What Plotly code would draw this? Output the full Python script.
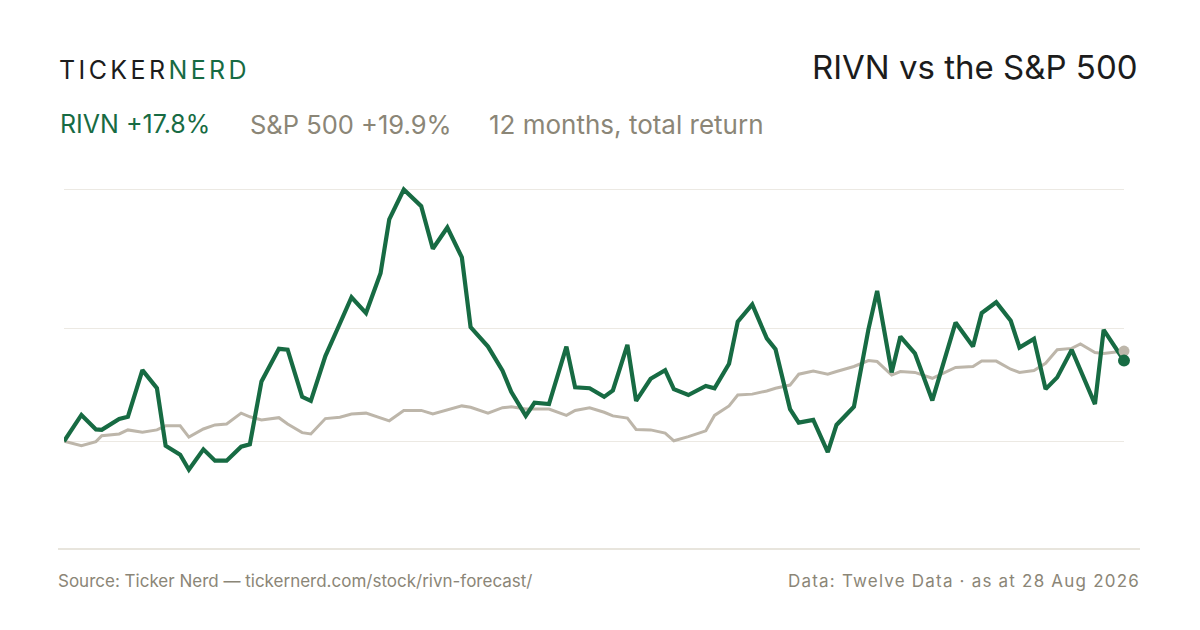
import pandas as pd
import plotly.graph_objects as go

# ---- Data: 12 months total return (%), from 28 Aug 2025 ----
start = pd.Timestamp("2025-08-28")
day_offsets = [
    0, 6, 11, 13, 19, 22, 27, 32, 35, 40, 43, 48, 52, 56, 61, 64, 68, 74, 77, 82,
    85, 90, 95, 99, 104, 109, 112, 117, 123, 127, 132, 137, 140, 146, 151, 154,
    159, 162, 167, 173, 176, 181, 186, 189, 194, 197, 202, 207, 210, 215, 221,
    224, 229, 232, 237, 242, 245, 250, 253, 258, 263, 266, 272, 277, 280, 285,
    288, 293, 299, 307, 313, 316, 321, 326, 329, 334, 338, 342, 347, 350, 355,
    358, 365,
]
rivn_return = [
    0.0, 5.8, 2.6, 2.5, 4.9, 5.4, 15.7, 11.7, -1.0, -3.0, -6.3, -1.8, -4.3, -4.3,
    -1.2, -0.7, 13.2, 20.4, 20.2, 9.8, 8.9, 18.8, 26.0, 31.8, 28.3, 37.1, 49.0,
    55.6, 51.9, 42.5, 47.2, 40.6, 25.2, 20.9, 15.6, 10.9, 5.6, 8.5, 8.2, 20.9,
    11.9, 11.7, 9.8, 11.2, 21.3, 8.9, 13.8, 15.7, 11.5, 10.2, 12.2, 11.7, 17.1,
    26.4, 30.2, 22.7, 20.3, 7.1, 4.1, 4.7, -2.4, 3.6, 7.6, 24.7, 33.2, 15.2,
    23.1, 19.4, 9.0, 26.2, 20.9, 28.3, 30.7, 26.6, 20.7, 22.6, 11.5, 14.1, 20.2,
    15.9, 8.2, 24.6, 17.8,
]
spx_return = [
    0.0, -1.0, -0.1, 1.2, 1.6, 2.5, 2.0, 2.5, 3.4, 3.4, 0.9, 2.7, 3.6, 3.8, 6.2,
    5.4, 4.7, 5.2, 3.8, 1.9, 1.6, 5.0, 5.3, 6.0, 6.2, 5.1, 4.5, 6.8, 6.8, 6.0,
    6.9, 7.8, 7.5, 6.2, 7.4, 7.6, 7.1, 7.1, 7.1, 5.7, 6.8, 7.4, 6.4, 5.6, 5.1,
    2.6, 2.5, 1.8, 0.1, 1.0, 2.3, 5.7, 7.8, 10.2, 10.4, 11.1, 11.7, 12.4, 14.8,
    15.5, 14.8, 15.4, 16.5, 17.8, 17.6, 14.6, 15.4, 15.2, 13.9, 16.3, 16.5, 17.7,
    17.7, 15.9, 15.2, 15.6, 17.2, 20.2, 20.5, 21.5, 19.6, 19.4, 19.9,
]
grid_values = [0, 25, max(rivn_return)]

dates = start + pd.to_timedelta(day_offsets, unit="D")

GREEN = "#176b43"
BEIGE = "#bdb6aa"
GREY_TEXT = "#8b8677"
DARK = "#1c1c1c"
FONT = "Inter, Roboto, sans-serif"

# plot area in page pixels (the page puts the figure 8px in from the corner)
OFF = 8
PL, PR, PT, PB = 64, 1124, 170, 520


def px_x(p):
    return (p - PL) / (PR - PL)


def px_y(p):
    return (PB - p) / (PB - PT)


fig = go.Figure()

fig.add_trace(
    go.Scatter(
        x=dates, y=spx_return, mode="lines",
        line=dict(color=BEIGE, width=3), name="S&P 500", cliponaxis=False,
    )
)
fig.add_trace(
    go.Scatter(
        x=dates, y=rivn_return, mode="lines",
        line=dict(color=GREEN, width=4.2), name="RIVN", cliponaxis=False,
    )
)
# points de fin
fig.add_trace(
    go.Scatter(
        x=[dates[-1]], y=[spx_return[-1]], mode="markers",
        marker=dict(color=BEIGE, size=11), cliponaxis=False,
    )
)
fig.add_trace(
    go.Scatter(
        x=[dates[-1]], y=[rivn_return[-1]], mode="markers",
        marker=dict(color=GREEN, size=12), cliponaxis=False,
    )
)

annotations = [
    dict(
        text="<span style='letter-spacing:3.4px'>TICKER</span>"
        "<span style='letter-spacing:3.4px;color:%s'>NERD</span>" % GREEN,
        x=px_x(57), y=px_y(70), xanchor="left", yanchor="middle",
        font=dict(size=25, color=DARK, family=FONT),
    ),
    dict(
        text="RIVN vs the S&P 500",
        x=px_x(1140), y=px_y(67), xanchor="right", yanchor="middle",
        font=dict(size=33, color=DARK, family=FONT),
    ),
    dict(
        text="RIVN +17.8%",
        x=px_x(58), y=px_y(124), xanchor="left", yanchor="middle",
        font=dict(size=25, color=GREEN, family=FONT),
    ),
    dict(
        text="S&P 500 +19.9%",
        x=px_x(248), y=px_y(124), xanchor="left", yanchor="middle",
        font=dict(size=25.5, color=GREY_TEXT, family=FONT),
    ),
    dict(
        text="12 months, total return",
        x=px_x(487), y=px_y(124), xanchor="left", yanchor="middle",
        font=dict(size=26, color=GREY_TEXT, family=FONT),
    ),
    dict(
        text="Source: Ticker Nerd — tickernerd.com/stock/rivn-forecast/",
        x=px_x(56), y=px_y(581), xanchor="left", yanchor="middle",
        font=dict(size=17, color=GREY_TEXT, family=FONT),
    ),
    dict(
        text="<span style='letter-spacing:1.2px'>Data: Twelve Data · as at 28 Aug 2026</span>",
        x=px_x(1142), y=px_y(581), xanchor="right", yanchor="middle",
        font=dict(size=17, color=GREY_TEXT, family=FONT),
    ),
]
for a in annotations:
    a.update(xref="paper", yref="paper", showarrow=False)

fig.update_layout(
    width=1200,
    height=630,
    margin=dict(l=PL - OFF, r=1200 - (PR - OFF), t=PT - OFF, b=630 - (PB - OFF)),
    paper_bgcolor="white",
    plot_bgcolor="white",
    showlegend=False,
    annotations=annotations,
    shapes=[
        dict(
            type="line", xref="paper", yref="paper",
            x0=px_x(58), x1=px_x(1140), y0=px_y(549), y1=px_y(549),
            line=dict(color="#e0dcd2", width=1.5),
        )
    ],
    xaxis=dict(
        range=[dates[0], dates[-1]], showgrid=False, zeroline=False,
        showticklabels=False, showline=False, ticks="",
    ),
    yaxis=dict(
        range=[-17.4, 59.9], tickvals=grid_values, showticklabels=False,
        gridcolor="#ece9e3", gridwidth=1, zeroline=False, showline=False, ticks="",
    ),
)

fig.write_html("out.html")
